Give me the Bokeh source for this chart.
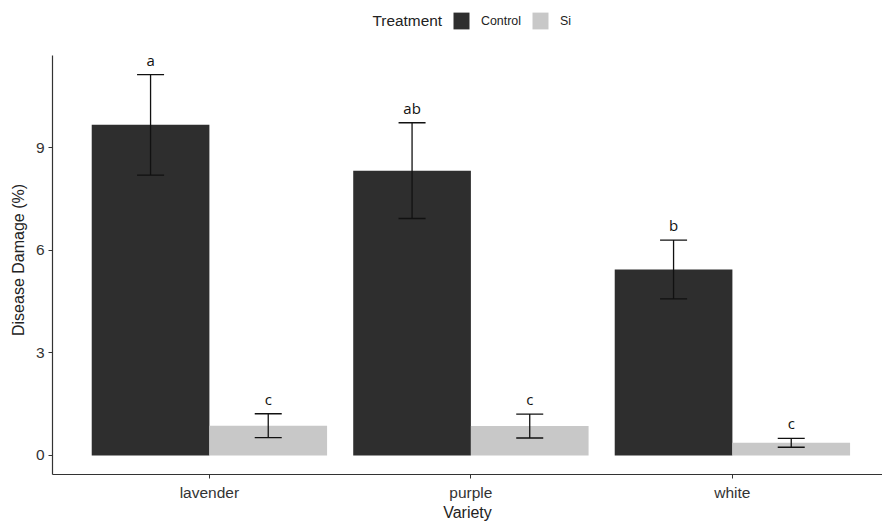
from bokeh.plotting import figure
from bokeh.layouts import column
from bokeh.models import (ColumnDataSource, Whisker, TeeHead, FixedTicker,
                          Legend, LegendItem, Label, Range1d)
from bokeh.embed import file_html
from bokeh.resources import INLINE
from bokeh.core.properties import value

# ---- data ----
varieties = ["lavender", "purple", "white"]
treatments = ["Control", "Si"]
control_mean = [9.67, 8.33, 5.44]
control_se = [1.47, 1.40, 0.86]
si_mean = [0.87, 0.86, 0.37]
si_se = [0.35, 0.35, 0.13]
control_letters = ["a", "ab", "b"]
si_letters = ["c", "c", "c"]
y_ticks = [0, 3, 6, 9]
colors = ["#2e2e2e", "#c8c8c8"]

bar_width = 0.45
positions = [i + 1 for i in range(len(varieties))]

top_all = [m + s for m, s in zip(control_mean + si_mean, control_se + si_se)]
ymax = max(top_all)
pad = 0.05 * ymax

# layout geometry (pixels)
FRAME_W = 830
PANEL_H = 419          # height of the data panel
HEADROOM = 10          # extra room above the panel for the letters
FRAME_H = PANEL_H + HEADROOM
LEG_H = 45
units_per_px = (ymax + 2 * pad) / PANEL_H
y_end = ymax + pad + HEADROOM * units_per_px

# ---------------- main plot ----------------
p = figure(frame_width=FRAME_W, frame_height=FRAME_H, output_backend="svg",
           toolbar_location=None,
           x_range=Range1d(0.4, 0.4 + FRAME_W / 261.5), y_range=Range1d(-pad, y_end),
           min_border_left=52, min_border_right=0, min_border_top=0, min_border_bottom=45)
p.outline_line_color = None
p.xgrid.visible = False
p.ygrid.visible = False
p.background_fill_color = "white"

renderers = []
for k, (means, ses, letters) in enumerate([(control_mean, control_se, control_letters),
                                           (si_mean, si_se, si_letters)]):
    shift = (k - 0.5) * bar_width
    xs = [x + shift for x in positions]
    src = ColumnDataSource(dict(
        x=xs, top=means,
        upper=[m + s for m, s in zip(means, ses)],
        lower=[m - s for m, s in zip(means, ses)],
        lab=letters))
    r = p.vbar(x="x", top="top", bottom=0, width=bar_width, source=src,
               fill_color=colors[k], line_color=None)
    renderers.append(r)
    w = Whisker(base="x", upper="upper", lower="lower", source=src,
                line_color="#111111", line_width=1.3, level="annotation",
                upper_head=TeeHead(size=27, line_color="#111111", line_width=1.3),
                lower_head=TeeHead(size=27, line_color="#111111", line_width=1.3))
    p.add_layout(w)
    p.text(x="x", y="upper", text="lab", source=src, text_align="center",
           text_baseline="alphabetic", y_offset=-15, text_color="#111111",
           text_font=value("Open Sans"), text_font_size="15px")

for ax in (p.xaxis[0], p.yaxis[0]):
    ax.axis_line_color = "#333333"
    ax.axis_line_width = 1.2
    ax.major_tick_line_color = "#333333"
    ax.major_tick_out = 4
    ax.major_tick_in = 0
    ax.minor_tick_line_color = None
    ax.major_label_text_font = "Liberation Sans"
    ax.major_label_text_color = "#333333"
    ax.axis_label_text_font = "Liberation Sans"
    ax.axis_label_text_font_style = "normal"
    ax.axis_label_text_color = "#222222"
    ax.axis_label_text_font_size = "16px"

p.xaxis.ticker = FixedTicker(ticks=positions)
p.xaxis.major_label_overrides = {pos: name for pos, name in zip(positions, varieties)}
p.xaxis.major_label_text_font_size = "15.5px"
p.xaxis.major_label_standoff = 5
p.xaxis.axis_label = "Variety"
p.xaxis.axis_label_standoff = 0

p.yaxis.ticker = FixedTicker(ticks=y_ticks)
p.yaxis.bounds = (-pad, ymax + pad)
p.yaxis.major_label_text_font_size = "15.5px"
p.yaxis.major_label_standoff = 4
p.yaxis.axis_label = "Disease Damage (%)"
p.yaxis.axis_label_standoff = 6

# ---------------- legend strip above ----------------
lp = figure(width=FRAME_W + 52, height=LEG_H, output_backend="svg", toolbar_location=None,
            x_axis_type=None, y_axis_type=None, x_range=Range1d(0, 1), y_range=Range1d(0, 1),
            min_border=0)
lp.outline_line_color = None
lp.grid.visible = False
keys = []
for c, means in zip(colors, [control_mean, si_mean]):
    kr = lp.vbar(x=positions[:1], top=means[:1], width=bar_width, fill_color=c, line_color=None)
    kr.visible = False
    keys.append(kr)

legend = Legend(items=[LegendItem(label=t, renderers=[r]) for t, r in zip(treatments, keys)],
                orientation="horizontal", location=(399, LEG_H - 31),
                glyph_width=20, glyph_height=21, label_standoff=10, spacing=9,
                padding=0, margin=0, border_line_color=None, background_fill_alpha=0,
                inactive_fill_alpha=0,
                label_text_font="Liberation Sans", label_text_font_size="12.4px",
                label_text_color="#222222")
lp.add_layout(legend, "center")
lp.add_layout(Label(x=320, y=LEG_H - 20, x_units="screen", y_units="screen",
                    text="Treatment", text_font="Liberation Sans", text_font_size="15.4px",
                    text_color="#222222", text_baseline="middle", text_align="left"))

layout = column(lp, p, spacing=0)
open("out.html", "w").write(file_html(layout, INLINE))
